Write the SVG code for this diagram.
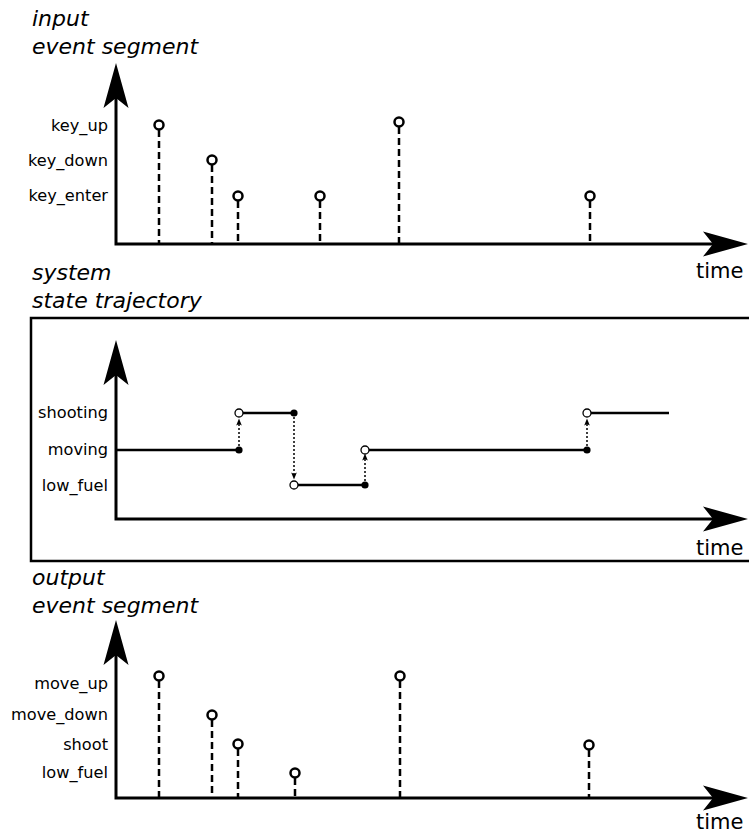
<svg xmlns="http://www.w3.org/2000/svg" width="749" height="836" viewBox="0 0 749 836">
  <defs>
    <marker id="big" markerUnits="userSpaceOnUse" viewBox="0 -15 50 30" markerWidth="50" markerHeight="30" refX="10" refY="0" orient="auto-start-reverse" overflow="visible">
      <path d="M0,-12.5 L45,0 L0,12.5 L10,0 Z" fill="#000"/>
    </marker>
    <marker id="small" markerUnits="userSpaceOnUse" viewBox="0 -4 10 8" markerWidth="10" markerHeight="8" refX="1.5" refY="0" orient="auto" overflow="visible">
      <path d="M0,-2.8 L7,0 L0,2.8 L1.5,0 Z" fill="#000"/>
    </marker>
  </defs>
  <style>
    .title { font-family: "DejaVu Sans", "Liberation Sans", sans-serif; font-style: italic; font-size: 22px; fill: #000; }
    .lab { font-family: "DejaVu Sans", "Liberation Sans", sans-serif; font-size: 16.2px; fill: #000; text-anchor: end; }
    .time { font-family: "DejaVu Sans", "Liberation Sans", sans-serif; font-size: 21px; fill: #000; }
    .axis { fill: none; stroke: #000; stroke-width: 3; marker-start: url(#big); marker-end: url(#big); }
    .stem { stroke: #000; stroke-width: 2.5; stroke-dasharray: 7 4; fill: none; }
    .ev { fill: #fff; stroke: #000; stroke-width: 2.5; }
    .seg { stroke: #000; stroke-width: 2.5; fill: none; }
    .jump { stroke: #000; stroke-width: 1.5; stroke-dasharray: 2 2; fill: none; marker-end: url(#small); }
    .closed { fill: #000; }
    .open { fill: #fff; stroke: #000; stroke-width: 1.3; }
    .frame { fill: none; stroke: #000; stroke-width: 2.5; }
  </style>

  <!-- INPUT -->
  <g id="input-panel">
    <text class="title" x="32" y="26">input</text>
    <text class="title" x="32" y="54">event segment</text>
    <text class="lab" x="108" y="131">key_up</text>
    <text class="lab" x="108" y="166">key_down</text>
    <text class="lab" x="108" y="201">key_enter</text>
    <text class="time" x="696" y="278">time</text>
  </g>
  <g id="in-ev1"><line class="stem" x1="159" y1="130" x2="159" y2="244"/><circle class="ev" cx="159" cy="125" r="4.5"/></g>
  <g id="in-ev2"><line class="stem" x1="212" y1="165" x2="212" y2="244"/><circle class="ev" cx="212" cy="160" r="4.5"/></g>
  <g id="in-ev3"><line class="stem" x1="238" y1="201" x2="238" y2="244"/><circle class="ev" cx="238" cy="196" r="4.5"/></g>
  <g id="in-ev4"><line class="stem" x1="320" y1="201" x2="320" y2="244"/><circle class="ev" cx="320" cy="196" r="4.5"/></g>
  <g id="in-ev5"><line class="stem" x1="399" y1="127" x2="399" y2="244"/><circle class="ev" cx="399" cy="122" r="4.5"/></g>
  <g id="in-ev6"><line class="stem" x1="590" y1="201" x2="590" y2="244"/><circle class="ev" cx="590" cy="196" r="4.5"/></g>

  <!-- SYSTEM -->
  <g id="state-panel">
    <text class="title" x="32" y="280">system</text>
    <text class="title" x="32" y="308">state trajectory</text>
    <rect class="frame" x="31" y="318" width="740" height="243"/>
    <text class="lab" x="108" y="418">shooting</text>
    <text class="lab" x="108" y="455">moving</text>
    <text class="lab" x="108" y="491">low_fuel</text>
    <text class="time" x="696" y="555">time</text>
  </g>
  <g id="st-moving1"><line class="seg" x1="116" y1="450" x2="239" y2="450"/></g>
  <g id="st-shooting1"><line class="seg" x1="239" y1="413" x2="294" y2="413"/></g>
  <g id="st-lowfuel"><line class="seg" x1="294" y1="485" x2="365" y2="485"/></g>
  <g id="st-moving2"><line class="seg" x1="365" y1="450" x2="587" y2="450"/></g>
  <g id="st-shooting2"><line class="seg" x1="587" y1="413" x2="669" y2="413"/></g>

  <!-- OUTPUT -->
  <g id="output-panel">
    <text class="title" x="32" y="585">output</text>
    <text class="title" x="32" y="613">event segment</text>
    <text class="lab" x="108" y="689">move_up</text>
    <text class="lab" x="108" y="720">move_down</text>
    <text class="lab" x="108" y="750">shoot</text>
    <text class="lab" x="108" y="778">low_fuel</text>
    <text class="time" x="696" y="829">time</text>
  </g>
  <g id="out-ev1"><line class="stem" x1="159" y1="681" x2="159" y2="798"/><circle class="ev" cx="159" cy="676" r="4.5"/></g>
  <g id="out-ev2"><line class="stem" x1="212" y1="720" x2="212" y2="798"/><circle class="ev" cx="212" cy="715" r="4.5"/></g>
  <g id="out-ev3"><line class="stem" x1="238" y1="749" x2="238" y2="798"/><circle class="ev" cx="238" cy="744" r="4.5"/></g>
  <g id="out-ev4"><line class="stem" x1="295" y1="778" x2="295" y2="798"/><circle class="ev" cx="295" cy="773" r="4.5"/></g>
  <g id="out-ev5"><line class="stem" x1="400" y1="681" x2="400" y2="798"/><circle class="ev" cx="400" cy="676" r="4.5"/></g>
  <g id="out-ev6"><line class="stem" x1="589" y1="750" x2="589" y2="798"/><circle class="ev" cx="589" cy="745" r="4.5"/></g>

  <!-- connectors: axes and transitions -->
  <g id="connectors">
    <path class="axis" d="M116,98 V244 H713"/>
    <path class="axis" d="M116,375 V519 H713"/>
    <path class="axis" d="M116,655 V798 H713"/>
    <line class="jump" x1="239" y1="450" x2="239" y2="424"/>
    <line class="jump" x1="294" y1="413" x2="294" y2="474"/>
    <line class="jump" x1="365" y1="485" x2="365" y2="459"/>
    <line class="jump" x1="587" y1="450" x2="587" y2="424"/>
  </g>
  <g id="state-points">
    <circle class="closed" cx="239" cy="450" r="3.6"/>
    <circle class="open" cx="239" cy="413" r="4"/>
    <circle class="closed" cx="294" cy="413" r="3.6"/>
    <circle class="open" cx="294" cy="485" r="4"/>
    <circle class="closed" cx="365" cy="485" r="3.6"/>
    <circle class="open" cx="365" cy="450" r="4"/>
    <circle class="closed" cx="587" cy="450" r="3.6"/>
    <circle class="open" cx="587" cy="413" r="4"/>
  </g>
</svg>
